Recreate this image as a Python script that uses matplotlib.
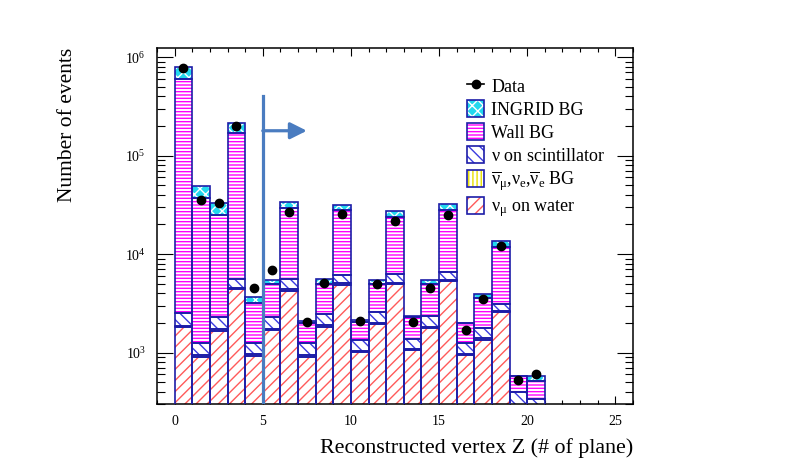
import numpy as np
import matplotlib
matplotlib.use("Agg")
import matplotlib.pyplot as plt
from matplotlib.patches import Patch
from matplotlib.lines import Line2D
from matplotlib.legend_handler import HandlerTuple
from matplotlib.ticker import LogLocator, MultipleLocator, NullFormatter

plt.rcParams['font.family'] = ['Liberation Serif', 'DejaVu Serif']
plt.rcParams['mathtext.fontset'] = 'stix'

# ---- data (bins: reconstructed vertex Z plane 0..20) ----
bin_left = list(range(21))
nu_water = [1800, 910, 1670, 4420, 925, 1700, 4250, 910, 1835, 4890, 1008,
            1955, 4970, 1050, 1780, 5285, 934, 1355, 2560, 190, 170]
antinu_bg = [60, 30, 50, 140, 30, 50, 130, 30, 55, 150, 30,
             60, 150, 30, 53, 160, 28, 41, 80, 6, 5]
nu_scint = [640, 322, 560, 1060, 307, 567, 1150, 302, 570, 1030, 305,
            565, 1090, 285, 517, 1175, 280, 396, 495, 202, 161]
wall_bg = [594500, 36138, 22920, 163380, 1952, 2603, 23870, 773, 2460, 21830, 697,
           2340, 17690, 935, 2650, 21680, 758, 1818, 8765, 177, 179]
ingrid_bg = [193000, 12100, 7900, 48000, 441, 525, 4200, 75, 610, 3900, 80,
             525, 3300, 50, 445, 4000, 15, 290, 1600, 5, 56]
data = [7.8e5, 3.57e4, 3.31e4, 2.02e5, 4480, 6820, 2.66e4, 2040, 5120, 2.58e4, 2090,
        4920, 2.15e4, 2040, 4560, 2.52e4, 1693, 3520, 1.2e4, 527, 612]

cut_z = 5
arrow_end = 7.5
arrow_y = 1.79e5
line_top = 4.0e5

lbl_water = r'$\mathregular{\nu_\mu}$ on water'
lbl_anti = r'$\mathregular{\overline{\nu}_\mu{,}\nu_e{,}\overline{\nu}_e}$ BG'
lbl_scint = r'$\mathregular{\nu}$ on scintillator'

fig = plt.figure(figsize=(7.92, 4.76), dpi=100)
ax = fig.add_axes([157/792, 1 - 404/476, (633-157)/792, (404-48)/476])

outline = '#1c1ca8'
components = [
    (nu_water, 'white', '#ff5a5a', '///', lbl_water),
    (antinu_bg, 'white', '#e8e000', '||||', lbl_anti),
    (nu_scint, 'white', '#3a3ae0', '\\\\\\', lbl_scint),
    (wall_bg, 'white', '#ff00ff', '-----', 'Wall BG'),
    (ingrid_bg, '#22d8ee', 'white', 'xxx', 'INGRID BG'),
]

plt.rcParams['hatch.linewidth'] = 1.0
bottom = np.ones(len(bin_left))
handles = {}
for vals, fc, hc, hatch, label in components:
    vals = np.asarray(vals, float)
    ax.bar(bin_left, vals, width=1, align='edge', bottom=bottom,
           facecolor=fc, edgecolor=hc, hatch=hatch, linewidth=0, zorder=2)
    ax.bar(bin_left, vals, width=1, align='edge', bottom=bottom,
           fill=False, edgecolor=outline, linewidth=1.2, zorder=3)
    h1 = Patch(facecolor=fc, edgecolor=hc, hatch=hatch, linewidth=0)
    h2 = Patch(fill=False, edgecolor=outline, linewidth=1.2)
    handles[label] = (h1, h2)
    bottom = bottom + vals

centers = np.asarray(bin_left) + 0.5
ax.plot(centers, data, 'o', color='black', markersize=6, zorder=5)

lc = '#4a7cc0'
ax.plot([cut_z, cut_z], [1, line_top], color=lc, lw=2.3, zorder=6)
ax.annotate('', xy=(arrow_end, arrow_y), xytext=(cut_z, arrow_y),
            arrowprops=dict(arrowstyle='-|>,head_length=1.0,head_width=0.5',
                            color=lc, lw=2.3, shrinkA=0, shrinkB=0), zorder=6)

ax.set_yscale('log')
ax.set_xlim(-1, 26)
ax.set_ylim(300, 1.24e6)

ax.xaxis.set_major_locator(MultipleLocator(5))
ax.xaxis.set_minor_locator(MultipleLocator(1))
ax.yaxis.set_major_locator(LogLocator(base=10, numticks=10))
ax.yaxis.set_minor_locator(LogLocator(base=10, subs=np.arange(2, 10), numticks=10))
ax.yaxis.set_minor_formatter(NullFormatter())

ax.tick_params(which='both', direction='in', top=True, right=True, width=0.8)
ax.tick_params(axis='x', which='major', length=6, labelsize=10, pad=8)
ax.tick_params(axis='x', which='minor', length=3)
ax.tick_params(axis='y', which='major', length=11.5, labelsize=10, pad=8)
ax.tick_params(axis='y', which='minor', length=5.8)
for s in ax.spines.values():
    s.set_linewidth(1.1)

ax.set_xlabel('Reconstructed vertex Z (# of plane)', fontsize=15.8, loc='right')
ax.xaxis.set_label_coords(1.0, -(448 - 404) / 356)
ax.xaxis.label.set_va('center')
ax.set_ylabel('Number of events', fontsize=15.5, loc='top')
ax.yaxis.set_label_coords(-(157 - 68) / 476, 1.0)
ax.yaxis.label.set_va('center')

data_handle = Line2D([], [], color='black', marker='o', markersize=6, lw=1.2)
order = ['INGRID BG', 'Wall BG', lbl_scint, lbl_anti, lbl_water]
leg_handles = [data_handle] + [handles[k] for k in order]
leg_labels = ['Data'] + order
fig.legend(leg_handles, leg_labels, loc='upper left', bbox_to_anchor=(467/792, 1 - 77/476),
           frameon=False, fontsize=13, handlelength=0.95, handleheight=1.05,
           handletextpad=0.4, labelspacing=0.25, borderpad=0, borderaxespad=0,
           handler_map={tuple: HandlerTuple(ndivide=1, pad=0)})

fig.savefig('out.png', dpi=100)
